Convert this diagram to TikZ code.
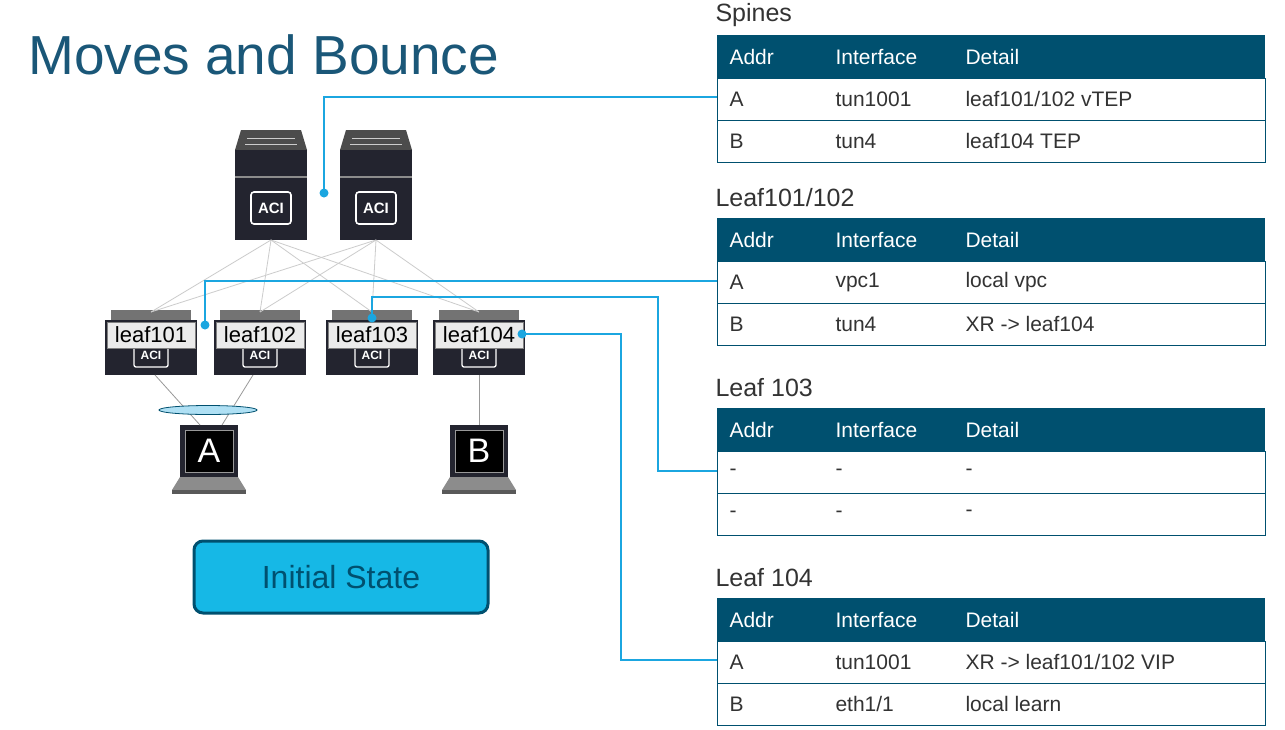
\documentclass[tikz,border=0pt]{standalone}
\usepackage{fontspec}
\setmainfont{Liberation Sans}
\begin{document}
\begin{tikzpicture}[x=1pt,y=-1pt,
  hdr/.style={fill=hdrc,draw=none},
  cell/.style={draw=hdrc,line width=0.8pt},
  th/.style={anchor=west,text=white,font=\fontsize{21}{21}\selectfont},
  td/.style={anchor=west,text=txt,font=\fontsize{21}{21}\selectfont},
  ttl/.style={anchor=west,text=txt,font=\fontsize{25}{25}\selectfont},
  blue/.style={draw=cyanl,line width=1.4pt},
  dot/.style={circle,fill=cyanl,inner sep=0pt,minimum size=9pt},
  gl/.style={draw=gray!40,line width=0.8pt},
  lbl/.style={draw=black!50,fill=black!8,inner sep=1pt,minimum width=88pt,minimum height=26pt,font=\fontsize{22}{22}\selectfont}
]
\definecolor{hdrc}{HTML}{00506F}
\definecolor{txt}{HTML}{333333}
\definecolor{cyanl}{HTML}{1BA6E0}
\definecolor{devc}{HTML}{23242F}
\definecolor{ttlc}{HTML}{1A5778}
\useasboundingbox (0,0) rectangle (1285,729);
\fill[white] (0,0) rectangle (1285,729);
\node[anchor=west,text=ttlc,font=\fontsize{55}{55}\selectfont,inner sep=0pt] (title) at (28,55) {Moves and Bounce};

% tables
\newcommand{\mytable}[7]{%
  \node[ttl] at (712,#1-20) {#2};
  \fill[hdrc] (717,#1) rectangle (1265,#1+43);
  \node[th] at (726,#1+22) {Addr};
  \node[th] at (832,#1+22) {Interface};
  \node[th] at (962,#1+22) {Detail};
  \draw[cell] (717,#1+43) rectangle (1265,#1+127);
  \draw[cell] (717,#1+85) -- (1265,#1+85);
  \node[td] at (726,#1+64) {#3};
  \node[td] at (832,#1+64) {#4};
  \node[td] at (962,#1+64) {#5};
  \node[td] at (726,#1+106) {#6};
  \node[td] at (832,#1+106) {#7};
}
\mytable{35}{Spines}{A}{tun1001}{leaf101/102 vTEP}{B}{tun4}
\node[td] at (962,141) {leaf104 TEP};
\mytable{218}{Leaf101/102}{A}{vpc1}{local vpc}{B}{tun4}
\node[td] at (962,324) {XR -> leaf104};
\mytable{408}{Leaf 103}{-}{-}{-}{-}{-}
\node[td] at (962,513) {-};
\mytable{598}{Leaf 104}{A}{tun1001}{XR -> leaf101/102 VIP}{B}{eth1/1}
\node[td] at (962,704) {local learn};

\coordinate (tS) at (717,97);
\coordinate (tL1) at (717,281);
\coordinate (tL3) at (717,471);
\coordinate (tL4) at (717,660);

% spines
\foreach \n/\x in {s1/235,s2/340}{
  \fill[black!70] (\x+6,130) -- (\x+66,130) -- (\x+72,150) -- (\x,150) -- cycle;
  \draw[white!80!black,line width=0.6pt] (\x+12,138)--(\x+60,138) (\x+10,144)--(\x+62,144);
  \fill[devc] (\x,150) rectangle (\x+72,240);
  \fill[black!45] (\x,176) rectangle (\x+72,178);
  \node[draw=white,line width=1.6pt,rounded corners=3pt,minimum width=40pt,minimum height=32pt,text=white,font=\bfseries\fontsize{15}{15}\selectfont,inner sep=1pt] (\n) at (\x+36,208) {ACI};
  \coordinate (\n b) at (\x+36,240);
}
% leaves
\foreach \n/\x in {l1/105,l2/214,l3/326,l4/433}{
  \fill[black!55] (\x+6,310) rectangle (\x+86,320);
  \fill[devc] (\x,320) rectangle (\x+92,375);
  \node[draw=white,line width=1.3pt,rounded corners=2pt,minimum width=34pt,minimum height=24pt,text=white,font=\bfseries\fontsize{12}{12}\selectfont,inner sep=0pt] at (\x+46,355) {ACI};
  \coordinate (\n t) at (\x+46,312);
  \coordinate (\n b) at (\x+46,375);
}
\foreach \s in {s1b,s2b}{\foreach \l in {l1t,l2t,l3t,l4t}{\draw[gl] (\s) -- (\l);}}
\node[lbl] (l1) at (151,335) {leaf101};
\node[lbl] (l2) at (260,335) {leaf102};
\node[lbl] (l3) at (372,335) {leaf103};
\node[lbl] (l4) at (479,335) {leaf104};

% laptops
\foreach \n/\x in {A/172,B/442}{
  \fill[devc] (\x+8,425) rectangle (\x+66,477);
  \fill[black] (\x+13,430) rectangle (\x+61,472);
  \draw[black!40] (\x+13,430) rectangle (\x+61,472);
  \fill[black!45] (\x+8,477) -- (\x+66,477) -- (\x+74,490) -- (\x,490) -- cycle;
  \fill[black!65] (\x,490) rectangle (\x+74,494);
  \node[text=white,font=\fontsize{34}{34}\selectfont] (\n) at (\x+37,451) {\n};
}
\draw[gray!80,line width=0.8pt] (155,375) -- (200,425);
\draw[gray!80,line width=0.8pt] (253,375) -- (222,425);
\draw[gray!80,line width=0.8pt] (l4b) -- (479,425);
\draw[draw=hdrc,fill=cyanl!35,line width=0.8pt] (208,410) ellipse (49pt and 4.5pt);

% blue connectors
\node[dot] (dS) at (324,193) {};
\node[dot] (d1) at (205,325) {};
\node[dot] (d3) at (372,318) {};
\node[dot] (d4) at (522,334) {};
\draw[blue] (dS.center) -- (324,97) -- (tS);
\draw[blue] (d1.center) -- (205,281) -- (tL1);
\draw[blue] (d3.center) -- (372,297) -- (658,297) -- (658,471) -- (tL3);
\draw[blue] (d4.center) -- (621,334) -- (621,660) -- (tL4);

% initial state
\node[draw=hdrc,line width=3pt,fill=cyanl!80!cyan,rounded corners=9pt,minimum width=294pt,minimum height=72pt,text=hdrc,font=\fontsize{32}{32}\selectfont] (init) at (341,577) {Initial State};
\end{tikzpicture}
\end{document}
